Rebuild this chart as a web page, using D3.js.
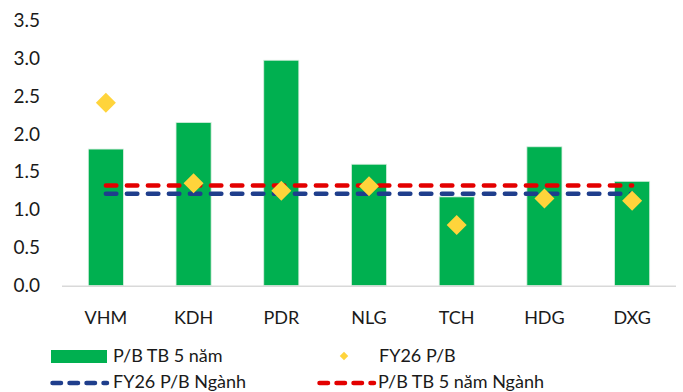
<!DOCTYPE html>
<html lang="vi">
<head>
<meta charset="UTF-8">
<script src="https://cdn.jsdelivr.net/npm/d3@7"></script>
<style>
  body { margin: 0; background: #fff; }
  svg { display: block; font-family: Lato, "Open Sans", sans-serif; }
</style>
</head>
<body>
<svg width="683" height="392"></svg>
<script>
const categories = ["VHM", "KDH", "PDR", "NLG", "TCH", "HDG", "DXG"];
const pbAvg5y = [1.80, 2.15, 2.97, 1.60, 1.17, 1.83, 1.375];
const pbFY26 = [2.41, 1.35, 1.25, 1.31, 0.80, 1.15, 1.12];
const industryFY26 = 1.21;
const industryAvg5y = 1.32;
const yTicks = [0, 0.5, 1, 1.5, 2, 2.5, 3, 3.5];

const green = "#00B050", yellow = "#FFD43B", red = "#E30000", blue = "#1F3E8C";

const svg = d3.select("svg");
const x = d3.scaleBand().domain(categories).range([62, 676]).paddingInner(0.6).paddingOuter(0.3);
const y = d3.scaleLinear().domain([0, 3.5]).range([285.7, 20]);

// y tick labels
svg.append("g").selectAll("text").data(yTicks).join("text")
  .attr("x", 40).attr("y", d => y(d)).attr("dy", "0.35em")
  .attr("text-anchor", "end").attr("font-size", 19).attr("fill", "#1a1a1a")
  .text(d => d.toFixed(1));

// bars
svg.append("g").selectAll("rect").data(pbAvg5y).join("rect")
  .attr("x", (d, i) => x(categories[i])).attr("width", x.bandwidth())
  .attr("y", d => y(d)).attr("height", d => y(0) - y(d))
  .attr("fill", green).attr("stroke", "#d8eedf").attr("stroke-width", 0.8);

// baseline
svg.append("line").attr("x1", 62).attr("x2", 676).attr("y1", y(0) + 0.5).attr("y2", y(0) + 0.5)
  .attr("stroke", "#d9d9d9").attr("stroke-width", 1.5);

// category labels
svg.append("g").selectAll("text").data(categories).join("text")
  .attr("x", d => x(d) + x.bandwidth() / 2).attr("y", 318).attr("dy", "0.35em")
  .attr("text-anchor", "middle").attr("font-size", 18).attr("fill", "#1a1a1a")
  .text(d => d);

// industry lines
const cx0 = x(categories[0]) + x.bandwidth() / 2;
const cx1 = x(categories[categories.length - 1]) + x.bandwidth() / 2;
[[industryAvg5y, red], [industryFY26, blue]].forEach(([v, c]) => {
  svg.append("line").attr("x1", cx0).attr("x2", cx1).attr("y1", y(v)).attr("y2", y(v))
    .attr("stroke", c).attr("stroke-width", 4.5).attr("stroke-linecap", "round")
    .attr("stroke-dasharray", "10.5,10.5");
});

// diamonds
const diamond = d3.symbol().type(d3.symbolSquare).size(200);
svg.append("g").selectAll("path").data(pbFY26).join("path")
  .attr("d", diamond)
  .attr("transform", (d, i) => `translate(${x(categories[i]) + x.bandwidth() / 2},${y(d)}) rotate(45)`)
  .attr("fill", yellow);

// legend
const lg = svg.append("g").attr("font-size", 18).attr("fill", "#1a1a1a");
lg.append("rect").attr("x", 51).attr("y", 350).attr("width", 56).attr("height", 13).attr("fill", green);
lg.append("text").attr("x", 113).attr("y", 356).attr("dy", "0.35em").text("P/B TB 5 năm");
lg.append("path").attr("d", d3.symbol().type(d3.symbolSquare).size(36))
  .attr("transform", "translate(344,356) rotate(45)").attr("fill", yellow);
lg.append("text").attr("x", 379).attr("y", 356).attr("dy", "0.35em").text("FY26 P/B");
[[50, blue, "FY26 P/B Ngành", 113], [317, red, "P/B TB 5 năm Ngành", 378]].forEach(([lx, c, t, tx]) => {
  lg.append("line").attr("x1", lx + 2.5).attr("x2", lx + 57).attr("y1", 383).attr("y2", 383)
    .attr("stroke", c).attr("stroke-width", 4.5).attr("stroke-linecap", "round")
    .attr("stroke-dasharray", "8.5,8.5");
  lg.append("text").attr("x", tx).attr("y", 382).attr("dy", "0.35em").text(t);
});
</script>
</body>
</html>
